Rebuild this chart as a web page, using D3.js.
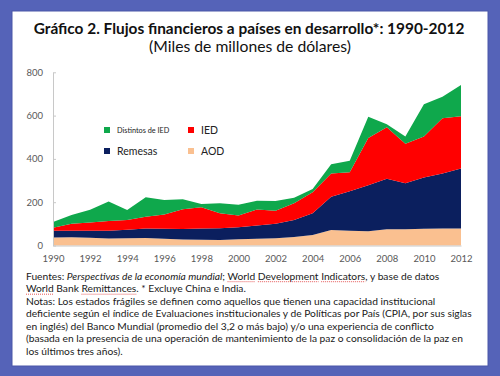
<!DOCTYPE html>
<html>
<head>
<meta charset="utf-8">
<script src="https://cdn.jsdelivr.net/npm/d3@7"></script>
<style>
  body { margin: 0; background: #5563b8; }
  svg { display: block; }
  text { font-family: Lato, "Open Sans", sans-serif; }
</style>
</head>
<body>
<div id="container"></div>
<script>
const years = [1990, 1991, 1992, 1993, 1994, 1995, 1996, 1997, 1998, 1999, 2000, 2001,
  2002, 2003, 2004, 2005, 2006, 2007, 2008, 2009, 2010, 2011, 2012];
const aod = [37, 38, 36, 32, 34, 35, 31, 28, 26, 25, 29, 31, 33, 39, 48, 72, 68, 66, 75, 75, 77, 78, 78];
const remesas = [31, 30, 32, 36, 39, 43, 46, 48, 52, 55, 55, 61, 68, 79, 101, 153, 183, 212, 233, 212, 237, 255, 278];
const ied = [14, 32, 38, 45, 45, 55, 66, 92, 99, 69, 54, 74, 59, 77, 97, 107, 87, 219, 238, 183, 189, 255, 241];
const distintos = [26, 41, 59, 90, 46, 90, 67, 46, 15, 46, 50, 41, 45, 26, 15, 43, 54, 98, 14, 33, 149, 99, 144];

const seriesKeys = ["AOD", "Remesas", "IED", "Distintos de IED"];
const seriesValues = [aod, remesas, ied, distintos];
const yTicks = [0, 200, 400, 600, 800];
const xTicks = [1990, 1992, 1994, 1996, 1998, 2000, 2002, 2004, 2006, 2008, 2010, 2012];

const title = "Gráfico 2. Flujos financieros a países en desarrollo*: 1990-2012";
const subtitle = "(Miles de millones de dólares)";
// segments: [text, style] where "i" = italic, "u" = spell-check underline
const notes = [
  [["Fuentes: ", ""], ["Perspectivas de la economía mundial", "i"], ["; ", ""], ["World", "u"], [" ", ""],
    ["Development", "u"], [" ", ""], ["Indicators", "u"], [", y base de datos", ""]],
  [["World", "u"], [" Bank ", ""], ["Remittances", "u"], [". * Excluye China e India.", ""]],
  [["Notas: Los estados frágiles se definen como aquellos que tienen una capacidad institucional", ""]],
  [["deficiente según el índice de Evaluaciones institucionales y de Políticas por País (CPIA, por sus siglas", ""]],
  [["en inglés) del Banco Mundial (promedio del 3,2 o más bajo) y/o una experiencia de conflicto", ""]],
  [["(basada en la presencia de una operación de mantenimiento de la paz o consolidación de la paz en", ""]],
  [["los últimos tres años).", ""]]
];

const colors = {
  AOD: "#fac090",
  Remesas: "#0b1f5e",
  IED: "#ff0000",
  "Distintos de IED": "#0fa84c"
};

const setAttrs = (el, attrs) =>
  Object.entries(attrs).reduce((acc, [key, val]) => acc.attr(key, val), el);

// scale font size so text spans the given width
const fitWidth = (el, width) => {
  const size = parseFloat(el.attr("font-size"));
  const w = el.node().getComputedTextLength();
  el.attr("font-size", (size * width) / w);
  return (size * width) / w;
};

const W = 500, H = 376;
const svg = d3.select("#container").append("svg");
setAttrs(svg, { width: W, height: H });

setAttrs(svg.append("rect"), { x: 0, y: 0, width: W, height: H, fill: "#5563b8" });
setAttrs(svg.append("rect"), {
  x: 12, y: 11, width: 476, height: 355, fill: "#fff", stroke: "#4a57a8", "stroke-width": 1
});

// titles
const t1 = svg.append("text").text(title);
setAttrs(t1, { x: 249, y: 34, "text-anchor": "middle", "font-weight": "bold", "font-size": 14, fill: "#111" });
fitWidth(t1, 431);
const t2 = svg.append("text").text(subtitle);
setAttrs(t2, { x: 250, y: 52, "text-anchor": "middle", "font-size": 13, fill: "#111" });
fitWidth(t2, 202);

// chart
const x = d3.scaleLinear().domain([1990, 2012]).range([53, 461]);
const y = d3.scaleLinear().domain([0, 800]).range([245.5, 72.3]);

const table = years.map((yr, i) => {
  const row = { year: yr };
  seriesKeys.forEach((k, j) => (row[k] = seriesValues[j][i]));
  return row;
});
const stacked = d3.stack().keys(seriesKeys)(table);

const area = d3.area()
  .x((d) => x(d.data.year))
  .y0((d) => y(d[0]))
  .y1((d) => y(d[1]));

svg.append("g")
  .selectAll("path")
  .data(stacked)
  .join("path")
  .attr("d", area)
  .attr("fill", (d) => colors[d.key]);

const yAxis = svg.append("g")
  .attr("transform", `translate(${x(1990)},0)`)
  .call(d3.axisLeft(y).tickValues(yTicks).tickSize(-3).tickSizeOuter(0).tickPadding(10));
yAxis.select(".domain").attr("stroke", "#c8c8c8");
yAxis.selectAll(".tick line").attr("stroke", "#c8c8c8");
yAxis.selectAll(".tick text").attr("fill", "#595959").attr("font-size", 9.5).attr("font-family", "Lato");

const xAxis = svg.append("g")
  .attr("transform", `translate(0,${y(0)})`)
  .call(d3.axisBottom(x).tickValues(xTicks).tickFormat(d3.format("d")).tickSize(0).tickPadding(10));
xAxis.select(".domain").attr("stroke", "#c8c8c8");
xAxis.selectAll(".tick text").attr("fill", "#595959").attr("font-size", 9.5).attr("font-family", "Lato");

// legend
const legendItems = [
  { key: "Distintos de IED", x: 104, y: 127, size: 7.3 },
  { key: "IED", x: 188, y: 127, size: 10.5 },
  { key: "Remesas", x: 104, y: 148, size: 10.5 },
  { key: "AOD", x: 188, y: 148, size: 10.5 }
];
const legend = svg.append("g")
  .selectAll("g")
  .data(legendItems)
  .join("g")
  .attr("transform", (d) => `translate(${d.x},${d.y})`);
legend.append("rect")
  .attr("width", 6)
  .attr("height", 6)
  .attr("fill", (d) => colors[d.key]);
legend.append("text")
  .attr("x", 13)
  .attr("y", 3)
  .attr("dy", "0.35em")
  .attr("font-size", (d) => d.size)
  .attr("fill", "#222")
  .text((d) => d.key);

// notes
const noteLines = svg.append("g")
  .selectAll("text")
  .data(notes)
  .join("text")
  .attr("x", 26)
  .attr("y", (d, i) => 279.5 + i * 12.5)
  .attr("font-size", 10)
  .attr("fill", "#1a1a1a");
const spans = noteLines.selectAll("tspan")
  .data((d) => d)
  .join("tspan")
  .attr("font-style", (d) => (d[1] === "i" ? "italic" : null))
  .text((d) => d[0]);
const ref = d3.select(noteLines.nodes()[3]);
const noteSize = fitWidth(ref, 446);
noteLines.attr("font-size", noteSize);

// red spell-check marks under some words
const marks = svg.append("g");
spans.filter((d) => d[1] === "u").each(function () {
  const p = this.getStartPositionOfChar(0);
  const w = this.getComputedTextLength();
  marks.append("line")
    .attr("x1", p.x)
    .attr("x2", p.x + w)
    .attr("y1", p.y + 2.2)
    .attr("y2", p.y + 2.2)
    .attr("stroke", "#e03030")
    .attr("stroke-width", 0.8)
    .attr("stroke-dasharray", "1,1");
});
</script>
</body>
</html>
